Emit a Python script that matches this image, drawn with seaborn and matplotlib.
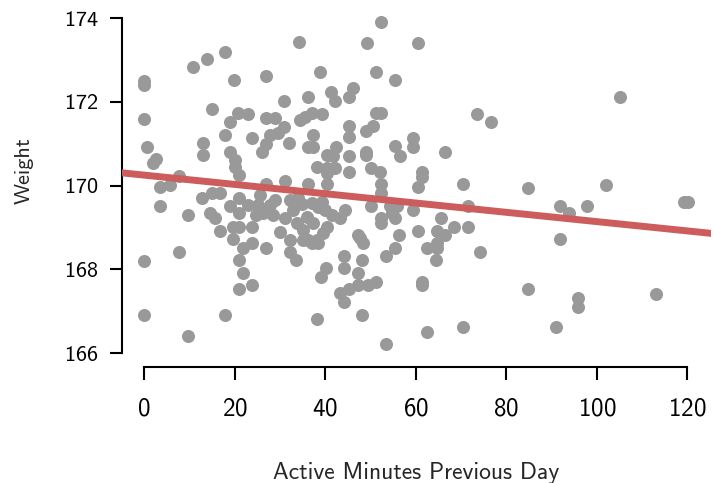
import matplotlib
matplotlib.use("Agg")
import matplotlib.pyplot as plt
import seaborn as sns
import pandas as pd

# Active minutes on the previous day and the weight recorded the next morning
minutes = [
    0, 0, 0, 0, 0, 0.7, 2.0, 2.6, 3.5, 5.7, 3.6, 7.8, 7.7, 9.7, 9.7,
    10.8, 13.8, 17.9, 19.9, 14.9, 12.9, 12.9, 18.9, 17.9, 20.8, 23.0,
    18.9, 20.0, 20.0, 20.9, 23.9, 26.9, 26.8, 28.9, 30.9, 30.9, 27.8, 29.6,
    26.8, 26.1, 32.0, 34.2, 36.2, 34.4, 35.5, 37.0, 37.2, 36.2, 37.3,
    38.1, 27.0, 31.1, 36.2,
    52.3, 49.3, 60.4, 38.8, 51.3, 55.4, 41.2, 42.1, 46.2, 45.3,
    39.2, 51.3, 52.4, 73.6, 76.6, 50.5, 49.1, 45.3, 45.3, 59.4, 59.4,
    55.4, 56.5, 66.4, 42.3, 40.3, 41.7, 45.3, 49.1, 49.1,
    40.3, 42.1, 40.3, 45.3, 50.2, 52.1, 61.4, 61.4,
    40.3, 52.3, 60.5, 70.5, 105.1, 84.8, 102.0,
    91.8, 93.9, 97.9, 119.2, 120.2, 91.8, 74.2,
    84.8, 95.9, 95.9, 113.0, 90.9,
    52.4, 50.2, 54.3, 55.8, 54.7, 55.4, 52.4, 52.4, 59.4, 65.5,
    71.6, 71.6, 68.5, 66.4, 64.6, 60.5, 56.3, 64.6, 62.4, 64.6, 64.4,
    55.4, 53.4, 47.6, 48.4, 47.3, 44.2, 44.2, 48.2, 40.1, 39.0, 47.3,
    51.3, 49.5, 47.3, 45.3, 43.2, 44.2, 61.4, 61.4,
    38.1, 48.2, 62.4, 70.5, 53.4, 33.6,
    12.7, 14.9, 16.7, 14.5, 15.6, 16.7, 18.9, 20.9, 20.9, 19.7, 20.9,
    19.7, 23.9, 21.9, 23.9, 26.8, 20.9, 21.9, 20.9, 23.9, 17.8,
    23.0, 25.2, 27.8, 28.5, 26.3, 24.8, 25.6, 28.9,
    31.1, 30.0, 32.2, 32.2, 33.7, 35.1, 35.1, 36.2,
    32.9, 34.8, 35.9, 32.2, 34.0,
    37.0, 38.4, 39.2, 39.9, 37.3, 38.1, 38.4, 37.0,
    40.3, 39.5, 41.4, 43.2, 44.3,
]
weight = [
    172.5, 172.4, 171.6, 168.2, 166.9, 170.93, 170.55, 170.63, 169.97, 170.01,
    169.52, 170.24, 168.42, 169.31, 166.41,
    172.82, 173.01, 173.2, 172.51, 171.82, 171.02, 170.73, 171.51, 171.2,
    171.73, 171.71, 170.81, 170.61, 170.45, 170.25, 171.13, 172.62, 171.62,
    171.62, 172.02, 171.41, 171.21, 171.25, 171.0, 170.8, 171.02, 173.42,
    172.12, 171.57, 171.64, 171.73, 171.2, 170.93, 170.93,
    170.45, 170.05, 170.12, 170.05,
    173.91, 173.41, 173.41, 172.72, 172.72, 172.52, 172.24, 172.03, 172.32,
    172.11, 171.71, 171.73, 171.73, 171.71, 171.51, 171.42, 171.31, 171.42,
    171.17, 171.13, 170.93, 170.95, 170.71, 170.81, 170.93, 170.73, 170.71,
    170.71, 170.81, 170.73,
    170.41, 170.41, 170.29, 170.32, 170.43, 170.32, 170.33, 170.21,
    170.04, 170.04, 169.96, 170.04, 172.11, 169.94, 170.01,
    169.51, 169.34, 169.51, 169.6, 169.6, 168.72, 168.42,
    167.52, 167.32, 167.11, 167.41, 166.62,
    169.82, 169.52, 169.51, 169.51, 169.34, 169.22, 169.22, 169.11, 169.42,
    169.22, 169.51, 169.02, 169.02, 168.82, 168.92, 168.92, 168.82, 168.62,
    168.5, 168.5, 168.22,
    168.52, 168.32, 168.74, 168.62, 168.82, 168.32, 168.03, 168.22, 168.03,
    167.83, 167.92,
    167.71, 167.63, 167.63, 167.52, 167.43, 167.23, 167.71, 167.63,
    166.81, 166.91, 166.51, 166.62, 166.22, 168.22,
    169.71, 169.82, 169.82, 169.34, 169.22, 168.92, 169.52, 169.71, 169.34,
    169.02, 169.02, 168.72, 169.02, 168.52, 168.62, 168.52, 168.22, 167.92,
    167.52, 167.63, 166.91,
    169.54, 169.54, 169.54, 169.3, 169.34, 169.3, 169.78, 169.66,
    169.22, 168.9, 168.7, 168.42, 169.1, 168.94, 168.7, 168.7,
    169.42, 169.55, 169.26, 169.66, 169.7,
    169.58, 169.5, 169.62, 169.42, 169.1, 168.7, 168.62, 168.62,
    169.02, 168.86, 169.3, 169.22, 169.42,
]

# Fitted trend line: weight = intercept + slope * minutes
fit_intercept = 170.25
fit_slope = -0.0111

x_ticks = [0, 20, 40, 60, 80, 100, 120]
y_ticks = [166, 168, 170, 172, 174]

df = pd.DataFrame({"Active Minutes Previous Day": minutes, "Weight": weight})

sns.set_style("ticks")
plt.rcParams["font.family"] = ["cmss10", "DejaVu Sans"]
plt.rcParams["axes.formatter.use_mathtext"] = True

W, H = 713, 483
fig = plt.figure(figsize=(W / 100, H / 100), dpi=100)
ax = fig.add_axes([122 / W, (H - 367) / H, (711 - 122) / W, 367 / H])

sns.scatterplot(
    data=df, x="Active Minutes Previous Day", y="Weight", ax=ax,
    color="#999999", s=88, alpha=1, linewidth=0, zorder=2,
)
ax.axline((0, fit_intercept), slope=fit_slope, color="#cd5c5c", lw=5,
          solid_capstyle="round", zorder=3)

ax.set_xlim(-4.9, 125.2)
ax.set_ylim(165.67, 174.43)
ax.set_xticks(x_ticks)
ax.set_yticks(y_ticks)
for side in ("top", "right"):
    ax.spines[side].set_visible(False)
ax.spines["left"].set_bounds(166, 174)
ax.spines["bottom"].set_bounds(0, 120)
for side in ("left", "bottom"):
    ax.spines[side].set_linewidth(1.5)
    ax.spines[side].set_color("black")
ax.tick_params(axis="both", length=9, width=1.5, color="black",
               labelcolor="black")
ax.tick_params(axis="x", pad=13, labelsize=18)
ax.tick_params(axis="y", pad=8, labelsize=16)
ax.set_xlabel("Active Minutes Previous Day", fontsize=17, labelpad=30)
ax.set_ylabel("Weight", fontsize=16)
ax.yaxis.set_label_coords(-0.15, 0.535)

fig.savefig("out.png", dpi=100)
